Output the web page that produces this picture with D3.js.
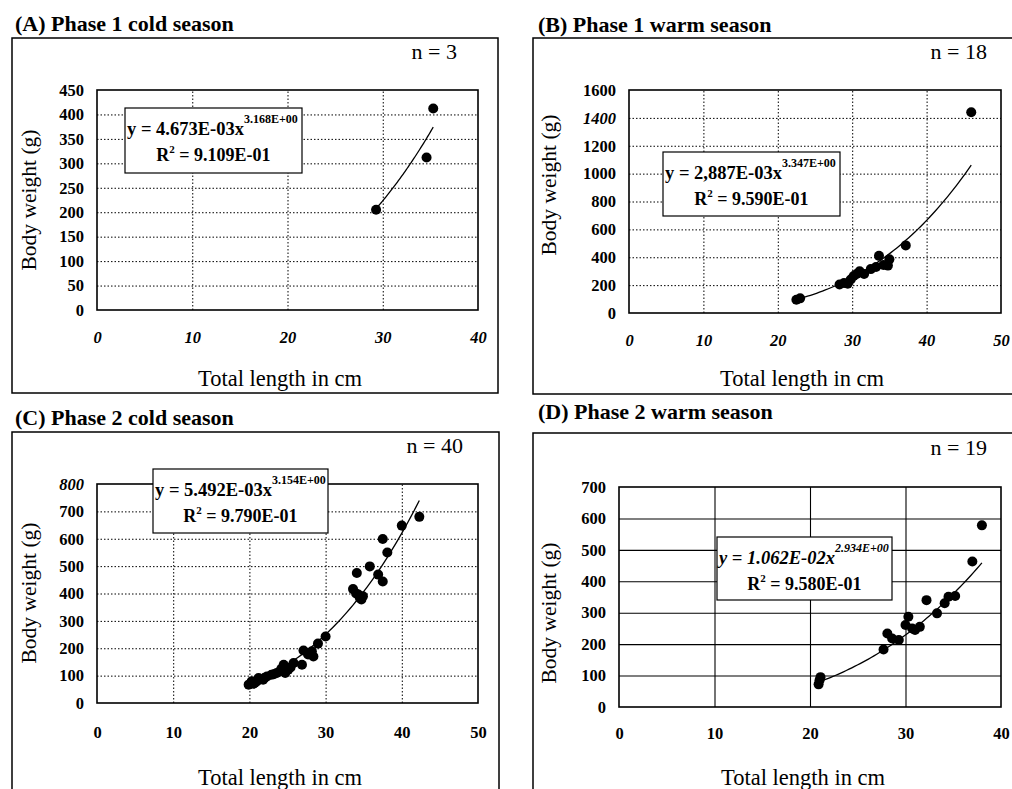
<!DOCTYPE html>
<html>
<head>
<meta charset="utf-8">
<script src="https://cdn.jsdelivr.net/npm/d3@7/dist/d3.min.js"></script>
<style>
  body { margin: 0; background: #fff; }
  svg { display: block; font-family: "Liberation Serif", "Times New Roman", serif; }
</style>
</head>
<body>
<svg width="1012" height="789"></svg>
<script>
// panel texts
const titles = ['(A) Phase 1 cold season', '(B) Phase 1 warm season', '(C) Phase 2 cold season', '(D) Phase 2 warm season'];
const nLabels = ['n = 3', 'n = 18', 'n = 40', 'n = 19'];
const eqCoef = ['y = 4.673E-03x', 'y = 2,887E-03x', 'y = 5.492E-03x', 'y = 1.062E-02x'];
const eqExp = ['3.168E+00', '3.347E+00', '3.154E+00', '2.934E+00'];
const eqR2 = ['9.109E-01', '9.590E-01', '9.790E-01', '9.580E-01'];

// axes
const xTicksA = [0, 10, 20, 30, 40];
const yTicksA = [0, 50, 100, 150, 200, 250, 300, 350, 400, 450];
const xTicksB = [0, 10, 20, 30, 40, 50];
const yTicksB = [0, 200, 400, 600, 800, 1000, 1200, 1400, 1600];
const xTicksC = [0, 10, 20, 30, 40, 50];
const yTicksC = [0, 100, 200, 300, 400, 500, 600, 700, 800];
const xTicksD = [0, 10, 20, 30, 40];
const yTicksD = [0, 100, 200, 300, 400, 500, 600, 700];

// measured fish: total length (cm) and body weight (g)
const lengthA = [29.3, 34.6, 35.3];
const weightA = [205, 312, 412];

const lengthB = [22.5, 23.0, 28.3, 28.9, 29.4, 29.8, 30.2, 30.6, 31.0, 31.6, 32.5, 33.2, 33.6, 34.2, 34.8, 35.0, 37.2, 46.0];
const weightB = [95, 105, 205, 215, 210, 240, 265, 280, 300, 280, 315, 330, 410, 345, 340, 385, 485, 1440];

const lengthC = [19.9, 20.3, 20.5, 20.7, 21.0, 21.2, 21.8, 22.0, 22.3, 22.9, 23.2, 23.6, 24.0, 24.2, 24.5, 24.7, 25.1, 25.4, 25.8, 26.9,
  27.1, 27.7, 28.2, 28.4, 29.0, 30.0, 33.6, 34.0, 34.1, 34.3, 34.5, 34.7, 34.9, 35.8, 36.9, 37.5, 37.5, 38.1, 40.0, 42.3];
const weightC = [67, 79, 70, 73, 80, 91, 85, 92, 97, 103, 105, 110, 116, 125, 140, 110, 122, 130, 146, 140,
  192, 177, 189, 170, 217, 243, 416, 400, 475, 396, 384, 378, 390, 499, 469, 444, 599, 550, 648, 680];

const lengthD = [20.9, 21.0, 21.1, 27.7, 28.1, 28.6, 29.3, 30.0, 30.3, 30.7, 31.0, 31.5, 32.2, 33.3, 34.1, 34.5, 35.2, 37.0, 38.0];
const weightD = [72, 85, 95, 183, 234, 218, 213, 261, 287, 250, 245, 255, 340, 298, 330, 351, 353, 463, 578];

// power trend lines y = a * x^b, and the length span they cover
const fitA = [4.673e-3, 3.168];
const fitB = [2.887e-3, 3.347];
const fitC = [5.492e-3, 3.154];
const fitD = [1.062e-2, 2.934];
const spanA = [29.3, 35.3];
const spanB = [22.4, 46.0];
const spanC = [19.9, 42.3];
const spanD = [20.9, 38.0];

const layouts = [
  { frame: [12, 38, 486, 355], plot: [97, 478, 90, 310], eq: [125, 108, 177, 65], n: [457, 59], title: [15, 31],
    ylab: [28, 200], xlab: [280, 386], xpad: 21, grid: 'dot', xItalic: true, yItalic: [] },
  { frame: [533, 38, 500, 356], plot: [629, 1001, 90, 313], eq: [663, 152, 177, 64], n: [987, 59], title: [538, 32],
    ylab: [548, 185], xlab: [802, 386], xpad: 21, grid: 'dot', xItalic: true, yItalic: [1400] },
  { frame: [12, 432, 487, 400], plot: [97, 478, 484, 703], eq: [153, 469, 175, 64], n: [463, 453], title: [15, 425],
    ylab: [28, 593], xlab: [280, 785], xpad: 23, grid: 'dot', xItalic: false, yItalic: [800] },
  { frame: [533, 433, 500, 400], plot: [619, 1001, 487, 707], eq: [717, 537, 175, 63], n: [987, 455], title: [538, 419],
    ylab: [548, 613], xlab: [803, 785], xpad: 20, grid: 'solid', xItalic: false, yItalic: [], eqItalic: true }
];

const panels = [
  { xTicks: xTicksA, yTicks: yTicksA, len: lengthA, wt: weightA, fit: fitA, span: spanA },
  { xTicks: xTicksB, yTicks: yTicksB, len: lengthB, wt: weightB, fit: fitB, span: spanB },
  { xTicks: xTicksC, yTicks: yTicksC, len: lengthC, wt: weightC, fit: fitC, span: spanC },
  { xTicks: xTicksD, yTicks: yTicksD, len: lengthD, wt: weightD, fit: fitD, span: spanD }
].map((p, i) => Object.assign(p, {
  title: titles[i], n: nLabels[i], coef: eqCoef[i], exp: eqExp[i], r2: eqR2[i], L: layouts[i]
}));

const svg = d3.select('svg');

panels.forEach(p => {
  const L = p.L;
  const g = svg.append('g');

  g.append('rect')
    .attr('x', L.frame[0]).attr('y', L.frame[1])
    .attr('width', L.frame[2]).attr('height', L.frame[3])
    .attr('fill', 'none').attr('stroke', '#000').attr('stroke-width', 1.5);

  g.append('text')
    .attr('x', L.title[0]).attr('y', L.title[1])
    .attr('font-size', 22).attr('font-weight', 'bold')
    .text(p.title);

  g.append('text')
    .attr('x', L.n[0]).attr('y', L.n[1])
    .attr('text-anchor', 'end').attr('font-size', 22)
    .text(p.n);

  const xScale = d3.scaleLinear()
    .domain(d3.extent(p.xTicks))
    .range([L.plot[0], L.plot[1]]);
  const yScale = d3.scaleLinear()
    .domain(d3.extent(p.yTicks))
    .range([L.plot[3], L.plot[2]]);
  const w = L.plot[1] - L.plot[0];
  const h = L.plot[3] - L.plot[2];

  const gridStyle = sel => sel
    .attr('stroke', '#000')
    .attr('stroke-width', L.grid === 'dot' ? 1 : 1.1)
    .attr('stroke-dasharray', L.grid === 'dot' ? '1.5,2' : null);

  // gridlines
  g.append('g')
    .attr('transform', 'translate(0,' + L.plot[3] + ')')
    .call(d3.axisBottom(xScale).tickValues(p.xTicks.slice(1, -1)).tickSize(-h).tickFormat(''))
    .call(a => a.select('.domain').remove())
    .selectAll('line').call(gridStyle);
  g.append('g')
    .attr('transform', 'translate(' + L.plot[0] + ',0)')
    .call(d3.axisLeft(yScale).tickValues(p.yTicks.slice(1, -1)).tickSize(-w).tickFormat(''))
    .call(a => a.select('.domain').remove())
    .selectAll('line').call(gridStyle);

  // tick labels
  const xAxisG = g.append('g')
    .attr('transform', 'translate(0,' + L.plot[3] + ')')
    .call(d3.axisBottom(xScale).tickValues(p.xTicks).tickSize(0).tickPadding(L.xpad).tickFormat(d3.format('d')));
  const yAxisG = g.append('g')
    .attr('transform', 'translate(' + L.plot[0] + ',0)')
    .call(d3.axisLeft(yScale).tickValues(p.yTicks).tickSize(0).tickPadding(13).tickFormat(d3.format('d')));
  [xAxisG, yAxisG].forEach(a => {
    a.attr('font-family', null).attr('font-size', null);
    a.select('.domain').remove();
    a.selectAll('text')
      .attr('font-size', 16.5).attr('font-weight', 'bold').attr('fill', '#000');
  });
  xAxisG.selectAll('text').attr('font-style', L.xItalic ? 'italic' : null);
  yAxisG.selectAll('text').attr('font-style', d => L.yItalic.includes(d) ? 'italic' : null);

  g.append('rect')
    .attr('x', L.plot[0]).attr('y', L.plot[2])
    .attr('width', w).attr('height', h)
    .attr('fill', 'none').attr('stroke', '#000').attr('stroke-width', 1.6);

  // axis titles
  g.append('text')
    .attr('transform', 'translate(' + L.ylab[0] + ',' + L.ylab[1] + ') rotate(-90)')
    .attr('text-anchor', 'middle').attr('dy', '0.35em').attr('font-size', 21.5)
    .text('Body weight (g)');
  g.append('text')
    .attr('x', L.xlab[0]).attr('y', L.xlab[1])
    .attr('text-anchor', 'middle').attr('font-size', 22.5)
    .text('Total length in cm');

  // trend line
  const xs = d3.range(60).map(k => p.span[0] + (p.span[1] - p.span[0]) * k / 59);
  g.append('path')
    .datum(xs)
    .attr('fill', 'none').attr('stroke', '#000').attr('stroke-width', 1.3)
    .attr('d', d3.line().x(d => xScale(d)).y(d => yScale(p.fit[0] * Math.pow(d, p.fit[1]))));

  // points
  g.selectAll('circle.fish')
    .data(p.len.map((d, i) => [d, p.wt[i]]))
    .enter()
    .append('circle')
    .attr('class', 'fish')
    .attr('r', 5)
    .attr('cx', d => xScale(d[0]))
    .attr('cy', d => yScale(d[1]))
    .attr('fill', '#000');

  // equation box
  const [bx, by, bw, bh] = L.eq;
  g.append('rect')
    .attr('x', bx).attr('y', by).attr('width', bw).attr('height', bh)
    .attr('fill', '#fff').attr('stroke', '#000').attr('stroke-width', 1.2);
  const eq1 = g.append('text')
    .attr('x', bx + 2).attr('y', by + 27)
    .attr('font-size', 18.5).attr('font-weight', 'bold')
    .attr('font-style', L.eqItalic ? 'italic' : null);
  eq1.append('tspan').text(p.coef);
  eq1.append('tspan').attr('dy', -12).attr('font-size', 12).text(p.exp);
  const eq2 = g.append('text')
    .attr('x', bx + bw / 2).attr('y', by + 53)
    .attr('text-anchor', 'middle')
    .attr('font-size', 18).attr('font-weight', 'bold');
  eq2.append('tspan').text('R');
  eq2.append('tspan').attr('dy', -8).attr('font-size', 11).text('2');
  eq2.append('tspan').attr('dy', 8).text(' = ' + p.r2);
});
</script>
</body>
</html>
